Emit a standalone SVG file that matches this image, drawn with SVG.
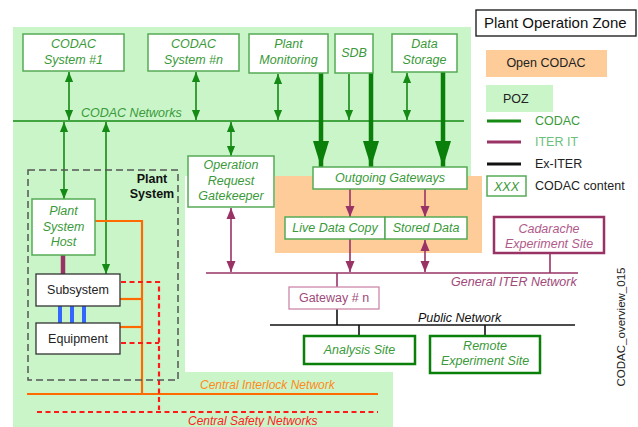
<svg xmlns="http://www.w3.org/2000/svg" width="638" height="427" viewBox="0 0 638 427">
<defs>
<style>
text{font-family:"Liberation Sans",Arial,sans-serif;font-size:12.5px}
.it{font-style:italic}
.node{fill:#fff;stroke:#55aa55;stroke-width:1.5}
.gtxt{fill:#3a9a3a;font-style:italic;text-anchor:middle}
.blk{fill:#fff;stroke:#333;stroke-width:1.3}
.btxt{fill:#222;text-anchor:middle}
.gline{stroke:#158a15;stroke-width:1.6;fill:none}
.thick{stroke:#0a7f0a;stroke-width:4.5;fill:none}
.pline{stroke:#993366;stroke-width:1.6;fill:none}
.oline{stroke:#ff6a00;stroke-width:2.2;fill:none}
.rdash{stroke:#ff1a1a;stroke-width:2.2;stroke-dasharray:5 3.5;fill:none}
.kline{stroke:#111;stroke-width:1.6;fill:none}
</style>
<marker id="ag" markerUnits="userSpaceOnUse" markerWidth="10" markerHeight="11" refX="11" refY="4.5" orient="auto-start-reverse" viewBox="0 0 11 9"><path d="M0,0 L11,4.5 L0,9 Z" fill="#158a15"/></marker>
<marker id="ap" markerUnits="userSpaceOnUse" markerWidth="11" markerHeight="10" refX="11" refY="4.5" orient="auto-start-reverse" viewBox="0 0 11 9"><path d="M0,0 L11,4.5 L0,9 Z" fill="#993366"/></marker>
<marker id="at" markerUnits="userSpaceOnUse" markerWidth="26" markerHeight="16" refX="26" refY="8" orient="auto" viewBox="0 0 26 16"><path d="M0,0 L26,8 L0,16 Z" fill="#0a7f0a"/></marker>
</defs>

<!-- backgrounds -->
<path d="M13,27 H471 V176 H185 V372 H393 V427 H13 Z" fill="#c9f5c9"/>
<rect x="275" y="176" width="207" height="77" fill="#fdcc99"/>

<!-- legend -->
<g id="legend">
<rect x="476" y="10" width="160" height="26" fill="#fff" stroke="#111" stroke-width="1.3"/>
<text x="484" y="28" style="font-size:15px" fill="#111">Plant Operation Zone</text>
<rect x="486" y="50" width="121" height="27" fill="#fdcc99"/>
<text x="546" y="67" text-anchor="middle" fill="#222">Open CODAC</text>
<rect x="486" y="85" width="67" height="27" fill="#c9f5c9"/>
<text x="503" y="103" fill="#222">POZ</text>
<line x1="487" y1="121" x2="521" y2="121" stroke="#158a15" stroke-width="3"/>
<text x="535" y="125" fill="#3a9a3a">CODAC</text>
<line x1="487" y1="142" x2="521" y2="142" stroke="#993366" stroke-width="3"/>
<text x="535" y="146" fill="#6cbf7c">ITER IT</text>
<line x1="487" y1="164" x2="521" y2="164" stroke="#111" stroke-width="3"/>
<text x="535" y="168" fill="#222">Ex-ITER</text>
<rect x="487" y="176" width="39" height="20" class="node"/>
<text x="506.5" y="191" class="gtxt">XXX</text>
<text x="535" y="190" fill="#222">CODAC content</text>
</g>

<!-- connectors -->
<g id="connectors">
<line x1="13" y1="121" x2="464" y2="121" class="gline"/>
<line x1="69" y1="72" x2="69" y2="120" class="gline" marker-start="url(#ag)" marker-end="url(#ag)"/>
<line x1="196" y1="72" x2="196" y2="120" class="gline" marker-start="url(#ag)" marker-end="url(#ag)"/>
<line x1="278" y1="74" x2="278" y2="120" class="gline" marker-start="url(#ag)" marker-end="url(#ag)"/>
<line x1="349" y1="74" x2="349" y2="120" class="gline" marker-end="url(#ag)"/>
<line x1="407" y1="73" x2="407" y2="120" class="gline" marker-start="url(#ag)" marker-end="url(#ag)"/>
<line x1="64" y1="122" x2="64" y2="199" class="gline" marker-start="url(#ag)" marker-end="url(#ag)"/>
<line x1="106" y1="122" x2="106" y2="274" class="gline" marker-start="url(#ag)" marker-end="url(#ag)"/>
<line x1="231" y1="122" x2="231" y2="156" class="gline" marker-start="url(#ag)" marker-end="url(#ag)"/>
<line x1="321" y1="73" x2="321" y2="167" class="thick" marker-end="url(#at)"/>
<line x1="371" y1="73" x2="371" y2="167" class="thick" marker-end="url(#at)"/>
<line x1="443" y1="72" x2="443" y2="167" class="thick" marker-end="url(#at)"/>

<line x1="206" y1="273" x2="578" y2="273" class="pline"/>
<line x1="350" y1="189" x2="350" y2="217" class="pline" marker-end="url(#ap)"/>
<line x1="425" y1="189" x2="425" y2="217" class="pline" marker-end="url(#ap)"/>
<line x1="350" y1="239" x2="350" y2="272" class="pline" marker-end="url(#ap)"/>
<line x1="425" y1="240" x2="425" y2="272" class="pline" marker-start="url(#ap)" marker-end="url(#ap)"/>
<line x1="231" y1="208" x2="231" y2="272" class="pline" marker-start="url(#ap)" marker-end="url(#ap)"/>
<line x1="550" y1="253" x2="550" y2="273" class="pline"/>
<line x1="337" y1="273" x2="337" y2="287" class="pline"/>
<line x1="63" y1="255" x2="63" y2="274" stroke="#993366" stroke-width="4.5"/>

<line x1="337" y1="309" x2="337" y2="325" class="kline"/>
<line x1="270" y1="325" x2="575" y2="325" class="kline"/>
<line x1="359" y1="325" x2="359" y2="336" class="kline"/>
<line x1="485" y1="325" x2="485" y2="336" class="kline"/>

<g stroke="#3366ff" stroke-width="4">
<line x1="60" y1="306" x2="60" y2="323"/>
<line x1="72" y1="306" x2="72" y2="323"/>
<line x1="84" y1="306" x2="84" y2="323"/>
</g>

<path d="M95,221 H142 V394" class="oline"/>
<line x1="120" y1="299" x2="142" y2="299" class="oline"/>
<line x1="120" y1="327" x2="142" y2="327" class="oline"/>
<line x1="27" y1="394" x2="378" y2="394" class="oline"/>
<path d="M121,282 H159 V410" class="rdash"/>
<line x1="121" y1="343" x2="159" y2="343" class="rdash"/>
<line x1="37" y1="412" x2="378" y2="412" class="rdash"/>
</g>

<!-- labels -->
<text x="81" y="117" class="it" fill="#3a9a3a">CODAC Networks</text>
<text x="451" y="286" class="it" fill="#a04a7a">General ITER Network</text>
<text x="418" y="322" class="it" fill="#111">Public Network</text>
<text x="200" y="389" class="it" fill="#ff8a1a" style="font-size:12px">Central Interlock Network</text>
<text x="188" y="425" class="it" fill="#ff2020" style="font-size:12px">Central Safety Networks</text>
<text transform="translate(625,327) rotate(-90)" text-anchor="middle" fill="#222" style="font-size:11.5px">CODAC_overview_015</text>

<!-- nodes -->
<g id="plant-system">
<rect x="28" y="170" width="150" height="210" fill="none" stroke="#555" stroke-width="1.5" stroke-dasharray="7 4"/>
<text x="152" y="183" text-anchor="middle" font-weight="bold" fill="#111">Plant</text>
<text x="152" y="198" text-anchor="middle" font-weight="bold" fill="#111">System</text>
</g>
<g id="codac1"><rect x="23" y="34" width="101" height="37" class="node"/><text x="73.5" y="48" class="gtxt">CODAC</text><text x="73.5" y="64" class="gtxt">System #1</text></g>
<g id="codacn"><rect x="148" y="34" width="91" height="37" class="node"/><text x="193.5" y="48" class="gtxt">CODAC</text><text x="193.5" y="64" class="gtxt">System #n</text></g>
<g id="plantmon"><rect x="249" y="34" width="79" height="39" class="node"/><text x="288.5" y="48" class="gtxt">Plant</text><text x="288.5" y="64" class="gtxt">Monitoring</text></g>
<g id="sdb"><rect x="335" y="34" width="38" height="39" class="node"/><text x="354" y="57" class="gtxt">SDB</text></g>
<g id="datastorage"><rect x="392" y="34" width="65" height="38" class="node"/><text x="424.5" y="48" class="gtxt">Data</text><text x="424.5" y="64" class="gtxt">Storage</text></g>
<g id="gatekeeper"><rect x="188" y="156" width="86" height="51" class="node"/><text x="231" y="169" class="gtxt">Operation</text><text x="231" y="184.5" class="gtxt">Request</text><text x="231" y="200" class="gtxt">Gatekeeper</text></g>
<g id="psh"><rect x="32" y="199" width="63" height="56" class="node"/><text x="63.5" y="215" class="gtxt">Plant</text><text x="63.5" y="231" class="gtxt">System</text><text x="63.5" y="246" class="gtxt">Host</text></g>
<g id="subsystem"><rect x="36" y="274" width="84" height="32" class="blk"/><text x="78" y="294" class="btxt">Subsystem</text></g>
<g id="equipment"><rect x="36" y="323" width="84" height="31" class="blk"/><text x="78" y="343" class="btxt">Equipment</text></g>
<g id="outgoing"><rect x="313" y="167" width="154" height="22" class="node"/><text x="390" y="182" class="gtxt">Outgoing Gateways</text></g>
<g id="livedata"><rect x="285" y="217" width="100" height="22" class="node"/><text x="335" y="232" class="gtxt">Live Data Copy</text></g>
<g id="storeddata"><rect x="385" y="217" width="82" height="22" class="node"/><text x="426" y="232" class="gtxt">Stored Data</text></g>
<g id="cadarache"><rect x="494" y="217" width="110" height="36" fill="#fff" stroke="#993366" stroke-width="2.5"/><text x="549" y="233" class="it" text-anchor="middle" fill="#b05a8a">Cadarache</text><text x="549" y="248" class="it" text-anchor="middle" fill="#b05a8a">Experiment Site</text></g>
<g id="gateway"><rect x="289" y="287" width="90" height="22" fill="#fff" stroke="#cc88aa" stroke-width="1.3"/><text x="334" y="302" text-anchor="middle" fill="#a04a7a">Gateway # n</text></g>
<g id="analysis"><rect x="304" y="336" width="111" height="28" fill="#fff" stroke="#0a7f0a" stroke-width="2.5"/><text x="359.5" y="354" class="gtxt">Analysis Site</text></g>
<g id="remote"><rect x="430" y="336" width="110" height="37" fill="#fff" stroke="#0a7f0a" stroke-width="2.5"/><text x="485" y="350" class="gtxt">Remote</text><text x="485" y="365" class="gtxt">Experiment Site</text></g>
</svg>
